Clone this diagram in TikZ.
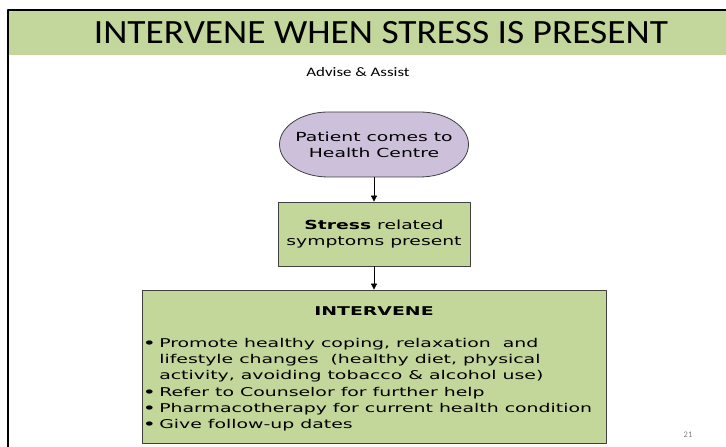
\documentclass[tikz,border=0pt]{standalone}
\usepackage{fontspec}
\setmainfont{Carlito}
\newfontfamily\verdana{DejaVu Sans}
\usetikzlibrary{arrows.meta,shapes.misc,positioning}
\definecolor{banner}{HTML}{C3D69B}
\definecolor{boxgreen}{HTML}{C4D79B}
\definecolor{lilac}{HTML}{CCC0DA}
\definecolor{edge}{HTML}{404040}
\newcommand\dotitem{\textbf{•}\hspace{2.5pt}}
\newcommand\nodotitem{\phantom{\textbf{•}}\hspace{2.5pt}}
\tikzset{
  every picture/.style={line join=round, >=Stealth},
  flowtext/.style={font=\verdana\fontsize{12.5}{16}\selectfont, xscale=1.5, inner sep=0pt},
  listtext/.style={font=\verdana\fontsize{12.1}{16.3}\selectfont, xscale=1.56, inner sep=0pt},
  startbox/.style={shape=rounded rectangle, draw=edge, fill=lilac, line width=0.8pt, minimum width=126pt, minimum height=65pt, align=center, flowtext},
  stepbox/.style={rectangle, draw=edge, fill=boxgreen, line width=0.8pt, align=center, flowtext, minimum width=128pt, minimum height=64pt},
  flow/.style={->, line width=0.8pt, >={Triangle[length=6pt,width=6pt]}},
}
\begin{document}
\begin{tikzpicture}[x=1pt,y=1pt]
\useasboundingbox (0,0) rectangle (726,447);
% slide frame and title band
\fill[banner] (8,392) rectangle (726,436);
\draw[line width=1.5pt] (8,0) -- (8,437) -- (726,437);
\node[xscale=1.1] (title) at (381,414) {\fontsize{34}{40}\selectfont INTERVENE WHEN STRESS IS PRESENT};
\node[xscale=1.3] (advise) at (358,375) {\fontsize{13}{15}\selectfont Advise \& Assist};
% flow
\node[startbox] (start) at (374,302.5) {Patient comes to\\Health Centre};
\node[stepbox] (stress) at (374,213) {\textbf{Stress} related\\symptoms present};
\node[draw=edge, fill=boxgreen, line width=0.8pt, minimum width=464pt, minimum height=153pt] (intervene) at (374,80.5) {};
\node[listtext, font=\verdana\bfseries\fontsize{12.1}{16.3}\selectfont] (head) at (374,136) {INTERVENE};
\node[listtext, anchor=north west, align=left] (tasks) at (143,109) {%
  \dotitem Promote healthy coping, relaxation~ and\\
  \nodotitem lifestyle changes~ (healthy diet, physical\\
  \nodotitem activity, avoiding tobacco \& alcohol use)\\
  \dotitem Refer to Counselor for further help\\
  \dotitem Pharmacotherapy for current health condition\\
  \dotitem Give follow-up dates};
\draw[flow] (start.south) -- (stress.north);
\draw[flow] (stress.south) -- (intervene.north);
\node[text=gray, font=\fontsize{8.5}{9}\selectfont] (page) at (688,12) {21};
\end{tikzpicture}
\end{document}
